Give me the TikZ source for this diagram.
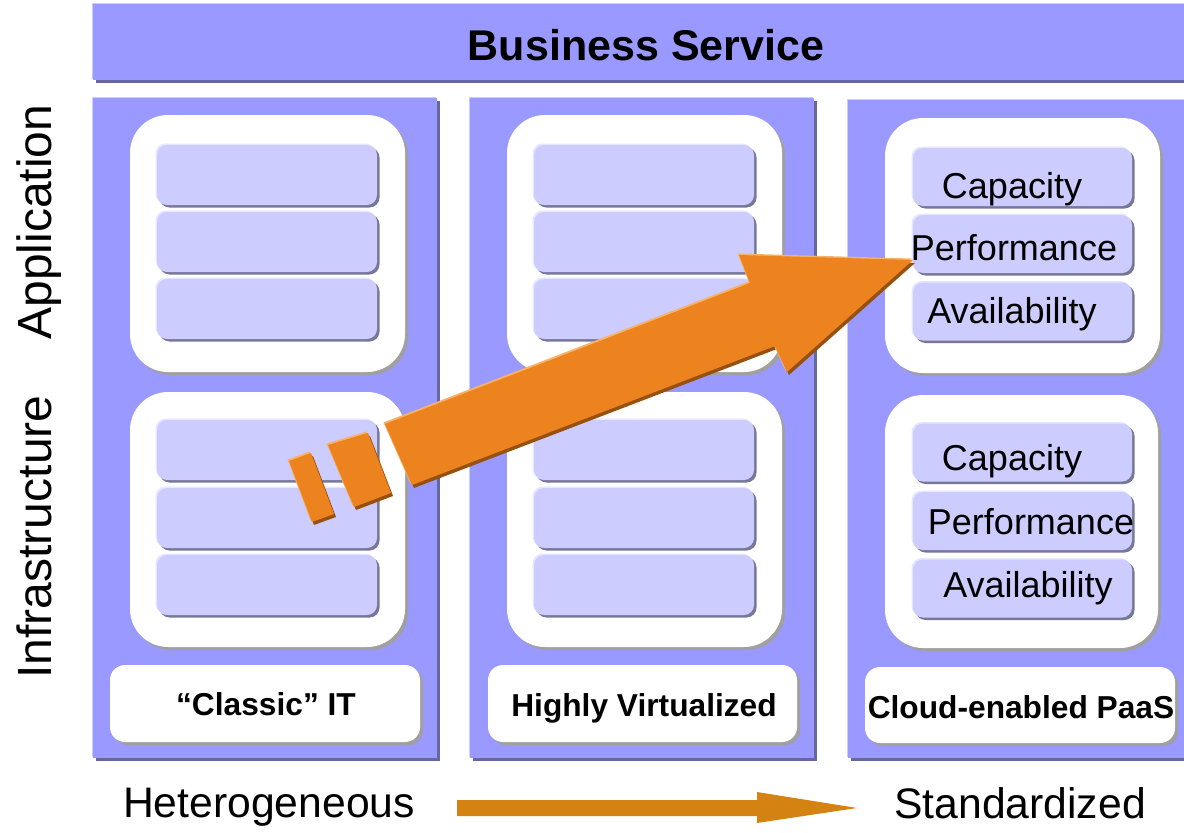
\documentclass[tikz,border=0pt]{standalone}
\usepackage{fontspec}
\setmainfont{Liberation Sans}
\usetikzlibrary{shadows}
\definecolor{colfill}{RGB}{153,153,255}
\definecolor{colhi}{RGB}{204,204,255}
\definecolor{colsh}{RGB}{102,102,160}
\definecolor{barfill}{RGB}{204,204,255}
\definecolor{barhi}{RGB}{230,230,255}
\definecolor{barsh}{RGB}{119,119,153}
\definecolor{boxsh}{RGB}{160,160,160}
\definecolor{arrfill}{RGB}{236,131,30}
\definecolor{arrdark}{RGB}{150,80,15}
\definecolor{arrlight}{RGB}{246,178,105}
\definecolor{botarr}{RGB}{212,130,18}
\tikzset{
  panel/.style={fill=colfill, inner sep=0pt, outer sep=0pt,
    general shadow={fill=colsh, shadow xshift=3pt, shadow yshift=-3pt},
    general shadow={fill=colhi, shadow xshift=-1.5pt, shadow yshift=1.5pt}},
  whitebox/.style={fill=white, inner sep=0pt, outer sep=0pt, rounded corners=38pt,
    general shadow={fill=boxsh, shadow xshift=3pt, shadow yshift=-3pt}},
  labelbox/.style={fill=white, inner sep=0pt, outer sep=0pt, rounded corners=15pt,
    minimum width=310pt, minimum height=77pt,
    general shadow={fill=boxsh, shadow xshift=3pt, shadow yshift=-3pt}},
  barbox/.style={fill=barfill, inner sep=0pt, outer sep=0pt, rounded corners=10pt,
    minimum width=220pt, minimum height=60pt,
    general shadow={fill=barsh, shadow xshift=2.5pt, shadow yshift=-2.5pt},
    general shadow={fill=barhi, shadow xshift=-1.5pt, shadow yshift=1.5pt}},
  arrshape/.style={fill=arrfill,
    general shadow={fill=arrdark, shadow xshift=2pt, shadow yshift=-3pt},
    general shadow={fill=arrlight, shadow xshift=-1.5pt, shadow yshift=1.5pt}},
  boldlabel/.style={inner sep=0pt, anchor=base, font=\bfseries\fontsize{31.7pt}{35pt}\selectfont},
  itemtxt/.style={inner sep=0pt, anchor=base, font=\fontsize{36pt}{40pt}\selectfont},
  sidetxt/.style={inner sep=0pt, anchor=base, rotate=90, font=\fontsize{48pt}{52pt}\selectfont},
  bottxt/.style={inner sep=0pt, anchor=base, font=\fontsize{42.7pt}{46pt}\selectfont}
}
\begin{document}
\begin{tikzpicture}[x=1pt, y=-1pt]
\useasboundingbox (0,0) rectangle (1184,833);

% top bar
\node[panel, minimum width=1102pt, minimum height=76pt] (top) at (644,42) {};
\node[inner sep=0pt, anchor=base, font=\bfseries\fontsize{43pt}{47pt}\selectfont] (toptxt) at (646,60) {Business Service};

% columns
\node[panel, minimum width=344pt, minimum height=660pt] (c1) at (265,428) {};
\node[panel, minimum width=344pt, minimum height=660pt] (c2) at (642,428) {};
\node[panel, minimum width=348pt, minimum height=658pt] (c3) at (1022,429) {};

% inner white boxes
\node[whitebox, minimum width=275pt, minimum height=257pt] (a1) at (267.5,243.5) {};
\node[whitebox, minimum width=275pt, minimum height=255pt] (i1) at (267.5,519.5) {};
\node[whitebox, minimum width=275pt, minimum height=257pt] (a2) at (644.5,243.5) {};
\node[whitebox, minimum width=275pt, minimum height=255pt] (i2) at (644.5,519.5) {};
\node[whitebox, minimum width=275pt, minimum height=255pt] (a3) at (1022.5,245.5) {};
\node[whitebox, minimum width=273pt, minimum height=253pt] (i3) at (1021.5,521.5) {};

% bars
\foreach \cx/\cn in {267/1, 644/2} {
  \foreach \yy/\rn in {175/1, 242/2, 309/3, 450/4, 518/5, 585/6} {
    \node[barbox] (b\cn\rn) at (\cx,\yy) {};
  }
}
\foreach \yy/\rn in {177/1, 244/2, 311.5/3, 452.5/4, 521/5, 588.5/6} {
  \node[barbox, minimum width=219pt, minimum height=58pt] (b3\rn) at (1022.5,\yy) {};
}

% label boxes
\node[labelbox] (l1) at (265,703.5) {};
\node[labelbox, minimum width=309pt] (l2) at (642.5,703.5) {};
\node[labelbox, minimum height=76pt] (l3) at (1020,705) {};
\node[boldlabel] (l1t) at (266,715) {“Classic” IT};
\node[boldlabel] (l2t) at (644,716) {Highly Virtualized};
\node[boldlabel] (l3t) at (1021,718) {Cloud-enabled PaaS};

% big orange arrow
\path[arrshape] (289,461) -- (311,453) -- (334,514) -- (312,522) -- cycle;
\path[arrshape] (328,445) -- (368,433) -- (391,493) -- (354,507) -- cycle;
\path[arrshape] (385,424) -- (750,283) -- (739,255) -- (913,260) -- (787,372) -- (775,346) -- (412,485) -- cycle;

% column 3 texts
\node[itemtxt] (t1) at (1012,198) {Capacity};
\node[itemtxt] (t2) at (1014,260) {Performance};
\node[itemtxt] (t3) at (1012,323) {Availability};
\node[itemtxt] (t4) at (1012,470) {Capacity};
\node[itemtxt] (t5) at (1031,534) {Performance};
\node[itemtxt] (t6) at (1028,597) {Availability};

% side labels
\node[sidetxt] (app) at (51,222) {Application};
\node[sidetxt] (inf) at (51,537) {Infrastructure};

% bottom
\node[bottxt] (het) at (269,817) {Heterogeneous};
\node[bottxt] (std) at (1020,818) {Standardized};
\fill[botarr] (457,800) -- (757,800) -- (757,792) -- (857,808) -- (757,823) -- (757,816) -- (457,816) -- cycle;
\end{tikzpicture}
\end{document}
